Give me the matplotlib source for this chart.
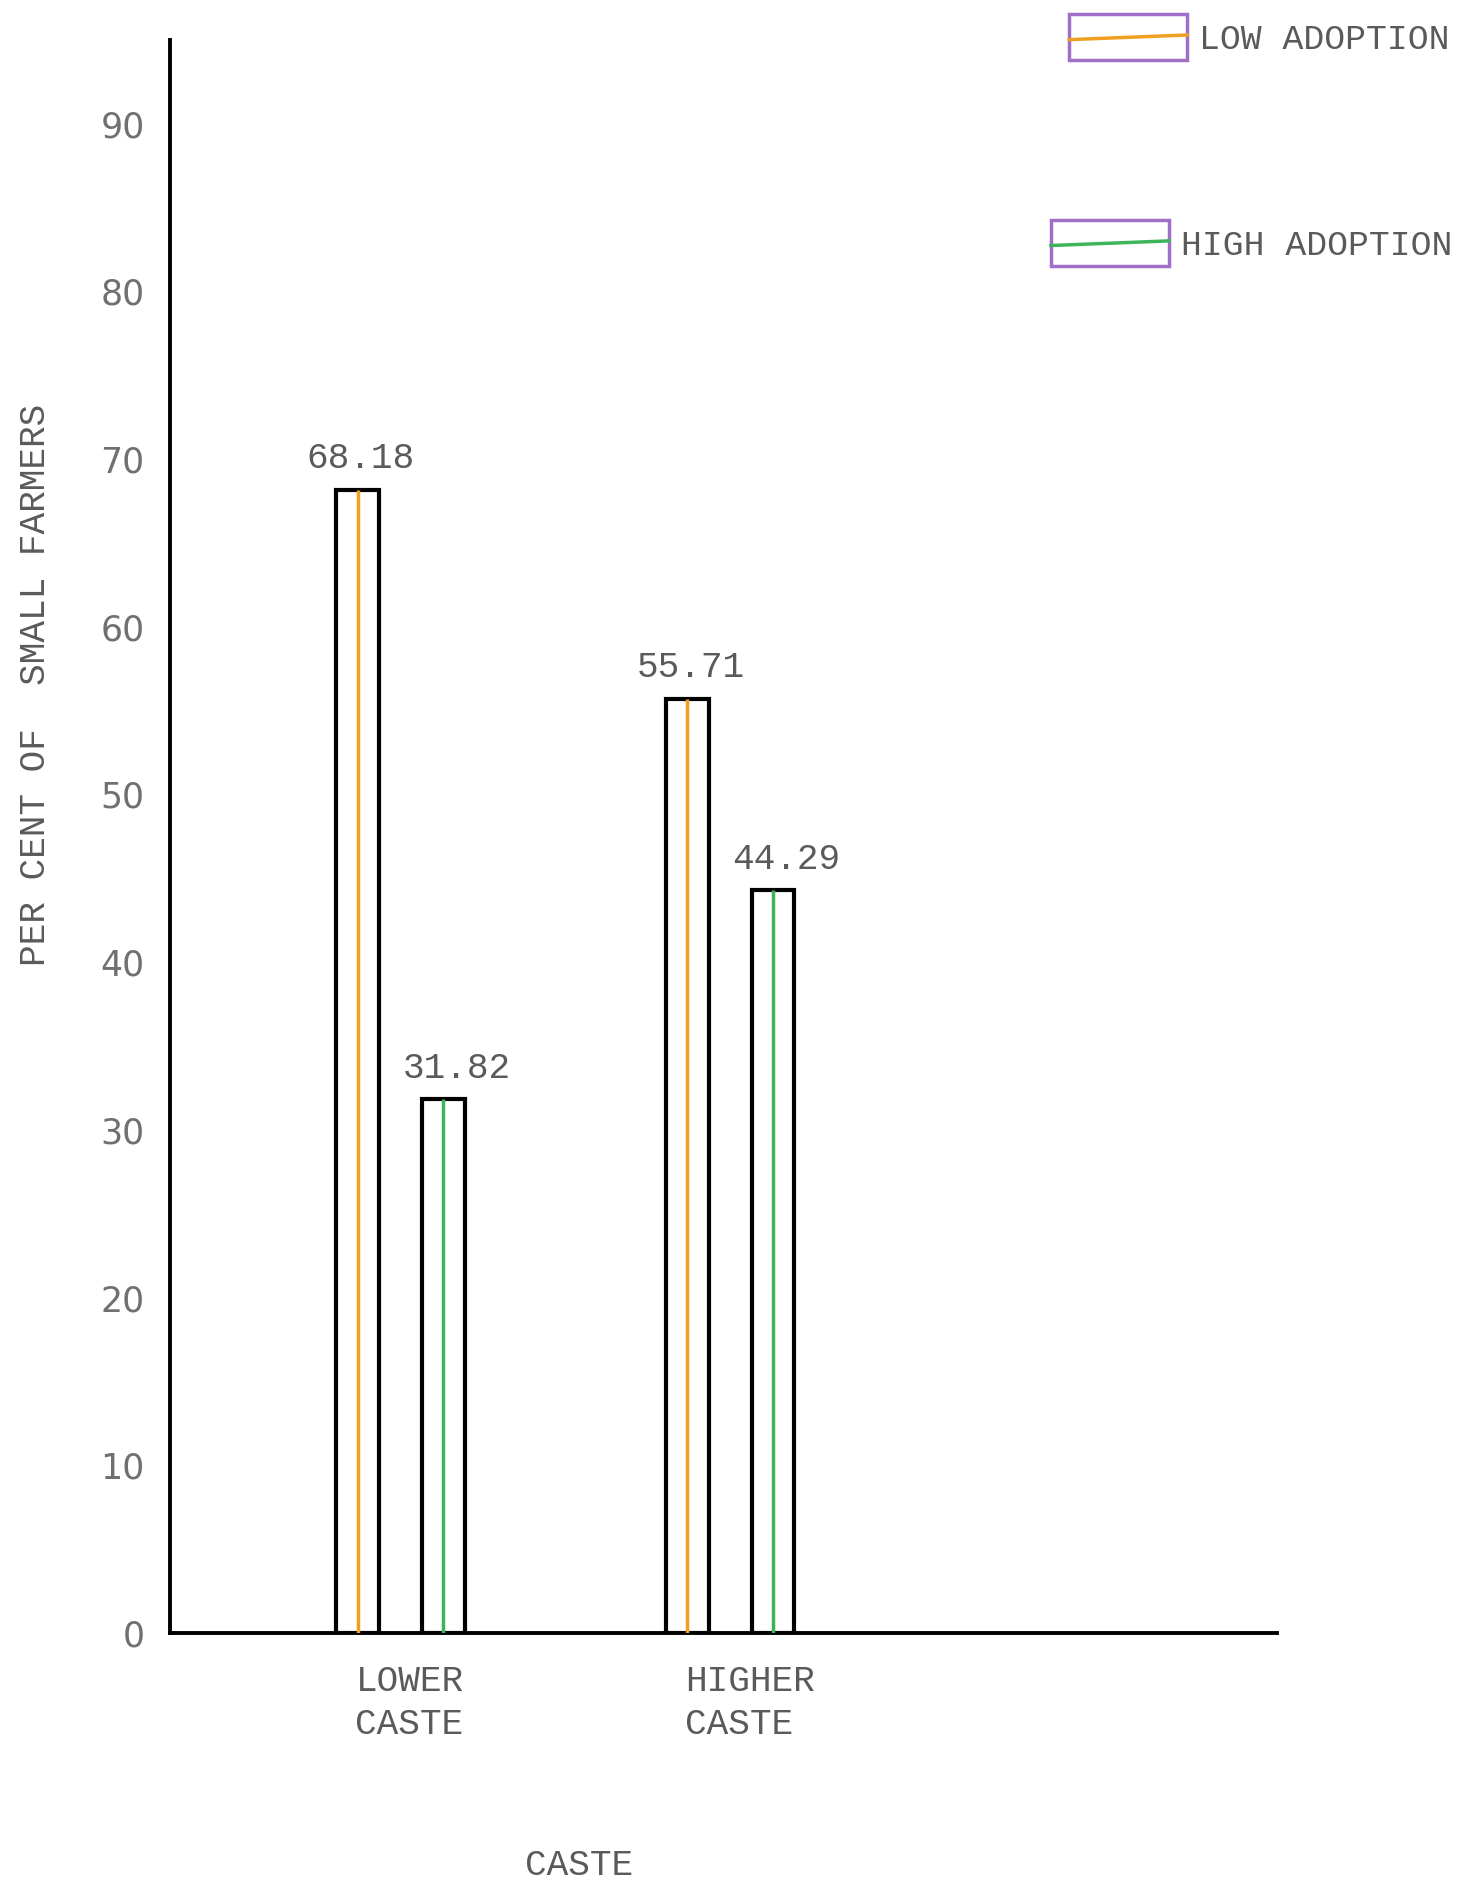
import matplotlib
matplotlib.use("Agg")
import matplotlib.pyplot as plt
import matplotlib.transforms as mtransforms
import numpy as np
from matplotlib.patches import Rectangle
from matplotlib.lines import Line2D

# data
castes = ["LOWER\nCASTE", "HIGHER\nCASTE"]
low_adoption = [68.18, 55.71]
high_adoption = [31.82, 44.29]
low_labels = ["68.18", "55.71"]
high_labels = ["31.82", "44.29"]
yticks = [0, 10, 20, 30, 40, 50, 60, 70, 80, 90]

mono = "Liberation Mono"
text_col = "#5a5a5a"
orange = "#f0a020"
green = "#3cb55a"
purple = "#a070c8"

fig = plt.figure(figsize=(14.75, 18.89), dpi=100)
ax = fig.add_axes([0.115, 0.1355, 0.751, 0.8435])

x = np.arange(len(castes))
w = 0.13
off = 0.13

ax.bar(x - off, low_adoption, width=w, color="white", edgecolor="black", linewidth=3, zorder=2)
ax.bar(x + off, high_adoption, width=w, color="white", edgecolor="black", linewidth=3, zorder=2)
ax.vlines(x - off, 0, low_adoption, color=orange, linewidth=2.5, zorder=3)
ax.vlines(x + off, 0, high_adoption, color=green, linewidth=2.5, zorder=3)

for xi, v, lab in zip(x - off, low_adoption, low_labels):
    ax.text(xi + 0.01, v + 0.8, lab, ha="center", va="bottom", fontsize=26,
            family=mono, color=text_col)
for xi, v, lab in zip(x + off, high_adoption, high_labels):
    ax.text(xi + 0.04, v + 0.8, lab, ha="center", va="bottom", fontsize=26,
            family=mono, color=text_col)

ax.set_xlim(-0.70, 2.66)
ax.set_ylim(0, 95)
ax.set_yticks(yticks)
ax.set_yticklabels([str(t) for t in yticks], fontsize=25, color="#707070")
ax.set_xticks(x)
ax.set_xticklabels(castes, fontsize=26, family=mono, color=text_col,
                   ha="left", linespacing=1.3)
ax.tick_params(axis="both", length=0)
ax.tick_params(axis="y", pad=18)
ax.tick_params(axis="x", pad=22)
# shift category labels left, like the typed labels
shift = mtransforms.ScaledTranslation(-0.45, 0, fig.dpi_scale_trans)
for lbl in ax.get_xticklabels():
    lbl.set_transform(lbl.get_transform() + shift)

for s in ["top", "right"]:
    ax.spines[s].set_visible(False)
ax.spines["left"].set_linewidth(2.8)
ax.spines["bottom"].set_linewidth(2.8)

ax.set_ylabel("PER CENT OF  SMALL FARMERS", fontsize=26, family=mono, color=text_col)
ax.yaxis.set_label_coords(-0.105, 0.595)
ax.set_xlabel("CASTE", fontsize=26, family=mono, color=text_col)
ax.xaxis.set_label_coords(0.37, -0.135)

# hand-drawn style legend in the top right corner
def legend_box(x0, y0, wd, ht, color, label):
    fig.add_artist(Rectangle((x0, y0), wd, ht, transform=fig.transFigure,
                             facecolor="white", edgecolor=purple, linewidth=2.5))
    fig.add_artist(Line2D([x0, x0 + wd], [y0 + ht * 0.45, y0 + ht * 0.55],
                          transform=fig.transFigure, color=color, linewidth=2.5))
    fig.text(x0 + wd + 0.008, y0 + ht * 0.45, label, fontsize=25, family=mono,
             color=text_col, va="center", ha="left")

legend_box(0.725, 0.968, 0.08, 0.0245, orange, "LOW ADOPTION")
legend_box(0.7125, 0.859, 0.08, 0.0245, green, "HIGH ADOPTION")

fig.savefig("out.png", dpi=100, facecolor="white")
